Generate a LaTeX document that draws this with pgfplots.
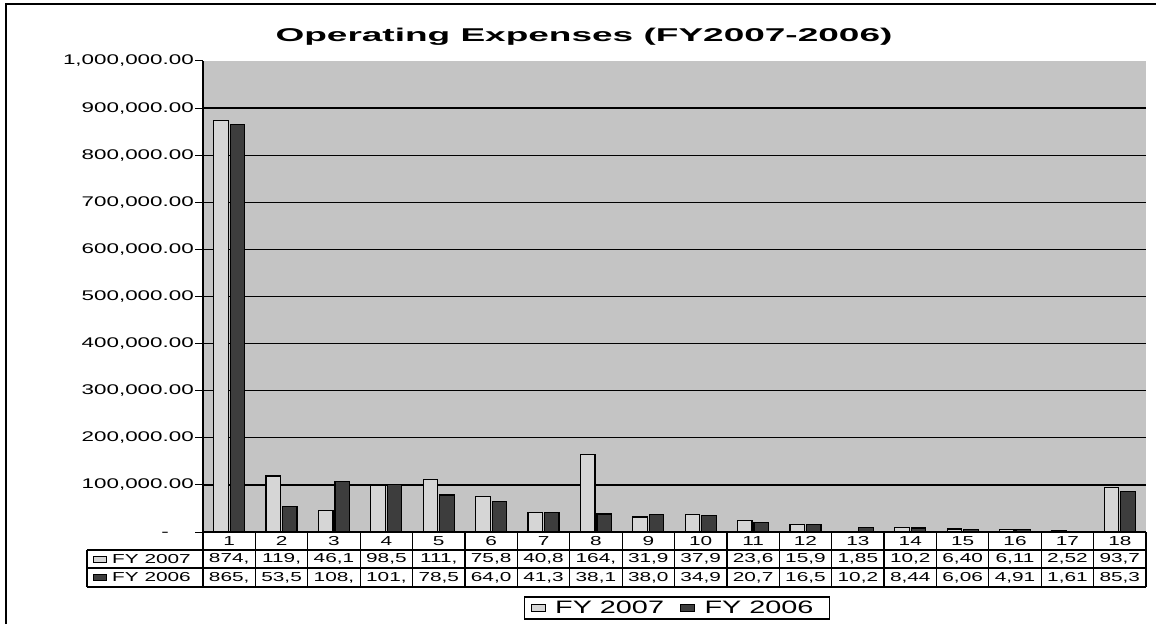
\documentclass[border=0pt]{standalone}
\usepackage{fontspec}
\setmainfont{Liberation Sans}[FakeStretch=1.6]
\newfontfamily\titlefont{Liberation Sans}[FakeStretch=2.0]
\usepackage{pgfplots}
\pgfplotsset{compat=1.18}

\definecolor{bggray}{gray}{0.77}
\definecolor{lightbar}{gray}{0.84}
\definecolor{darkbar}{gray}{0.24}

\begin{document}
\begin{tikzpicture}[x=1pt,y=1pt]
\path[use as bounding box] (0,0) rectangle (1156,624);
% chart frame (left and top edges visible)
\draw[black, line width=1.3pt] (6,0) -- (6,620) -- (1156,620);

\node[font=\titlefont\bfseries\fontsize{18.5}{20}\selectfont] at (584,587) {Operating Expenses (FY2007-2006)};

\begin{axis}[
    at={(203pt,92pt)}, anchor=south west,
    scale only axis, width=943pt, height=471pt,
    ybar=2pt, bar width=14.5pt,
    xmin=0.5, xmax=18.5, ymin=0, ymax=1000000,
    xtick=\empty,
    ytick={0,100000,...,900000},
    yticklabels={{-\phantom{00}},{100,000.00},{200,000.00},{300,000.00},{400,000.00},
                 {500,000.00},{600,000.00},{700,000.00},{800,000.00},{900,000.00}},
    extra y ticks={1000000},
    extra y tick labels={1{,}000{,}000.00},
    extra y tick style={grid=none},
    ymajorgrids,
    grid style={black, line width=1.2pt},
    axis background/.style={fill=bggray},
    axis x line*=bottom, axis y line*=left,
    axis line style={black, line width=1.2pt, -},
    tick align=outside, major tick length=8pt,
    tick style={black, line width=1pt},
    yticklabel style={anchor=east, inner sep=0pt, xshift=-1pt,
                      font=\fontsize{14}{16}\selectfont},
    scaled y ticks=false,
    legend columns=2,
    legend style={at={(axis description cs:0.5027,-0.1614)}, anchor=center,
                  draw=black, line width=1.2pt, fill=white,
                  font=\fontsize{18}{20}\selectfont,
                  inner xsep=6pt, inner ysep=2pt},
    legend image code/.code={\draw[#1, line width=0.6pt] (0pt,-3.5pt) rectangle (14pt,3.5pt);},
  ]
\addplot[fill=lightbar, draw=black, line width=1.2pt] coordinates {
  (1,874000) (2,119000) (3,46100) (4,98500) (5,111000) (6,75800)
  (7,40800) (8,164000) (9,31900) (10,37900) (11,23600) (12,15900)
  (13,1850) (14,10200) (15,6400) (16,6110) (17,2520) (18,93700)
};
\addlegendentry{\hspace{8pt}FY 2007\rule{14pt}{0pt}}
\addplot[fill=darkbar, draw=black, line width=1.2pt] coordinates {
  (1,865000) (2,53500) (3,108000) (4,101000) (5,78500) (6,64000)
  (7,41300) (8,38100) (9,38000) (10,34900) (11,20700) (12,16500)
  (13,10200) (14,8440) (15,6060) (16,4910) (17,1610) (18,85300)
};
\addlegendentry{\hspace{8pt}FY 2006\rule{8pt}{0pt}}
\end{axis}

% data table under the plot
\def\cw{52.389}
\begin{scope}[line width=1.2pt, black]
  \draw (87,74) -- (1146,74);
  \draw (87,56) -- (1146,56);
  \draw (87,37) -- (1146,37);
  \draw (87,37) -- (87,74);
  \foreach \k in {0,...,18} {\draw (203+\k*\cw,37) -- (203+\k*\cw,92);}
\end{scope}
\foreach \i/\a/\b in {1/{874,}/{865,}, 2/{119,}/{53,5}, 3/{46,1}/{108,}, 4/{98,5}/{101,},
    5/{111,}/{78,5}, 6/{75,8}/{64,0}, 7/{40,8}/{41,3}, 8/{164,}/{38,1}, 9/{31,9}/{38,0},
    10/{37,9}/{34,9}, 11/{23,6}/{20,7}, 12/{15,9}/{16,5}, 13/{1,85}/{10,2}, 14/{10,2}/{8,44},
    15/{6,40}/{6,06}, 16/{6,11}/{4,91}, 17/{2,52}/{1,61}, 18/{93,7}/{85,3}} {
  \node[font=\fontsize{13}{14}\selectfont] at (203+\i*\cw-0.5*\cw,83) {\i};
  \node[font=\fontsize{13}{14}\selectfont] at (203+\i*\cw-0.5*\cw,65) {\a};
  \node[font=\fontsize{13}{14}\selectfont] at (203+\i*\cw-0.5*\cw,46.5) {\b};
}
\draw[fill=lightbar, line width=0.6pt] (93,62) rectangle (106,68);
\draw[fill=darkbar, line width=0.6pt] (93,43.5) rectangle (106,49.5);
\node[anchor=west, inner sep=0pt, font=\fontsize{13}{14}\selectfont] at (112,65) {FY 2007};
\node[anchor=west, inner sep=0pt, font=\fontsize{13}{14}\selectfont] at (112,46.5) {FY 2006};
\end{tikzpicture}
\end{document}
